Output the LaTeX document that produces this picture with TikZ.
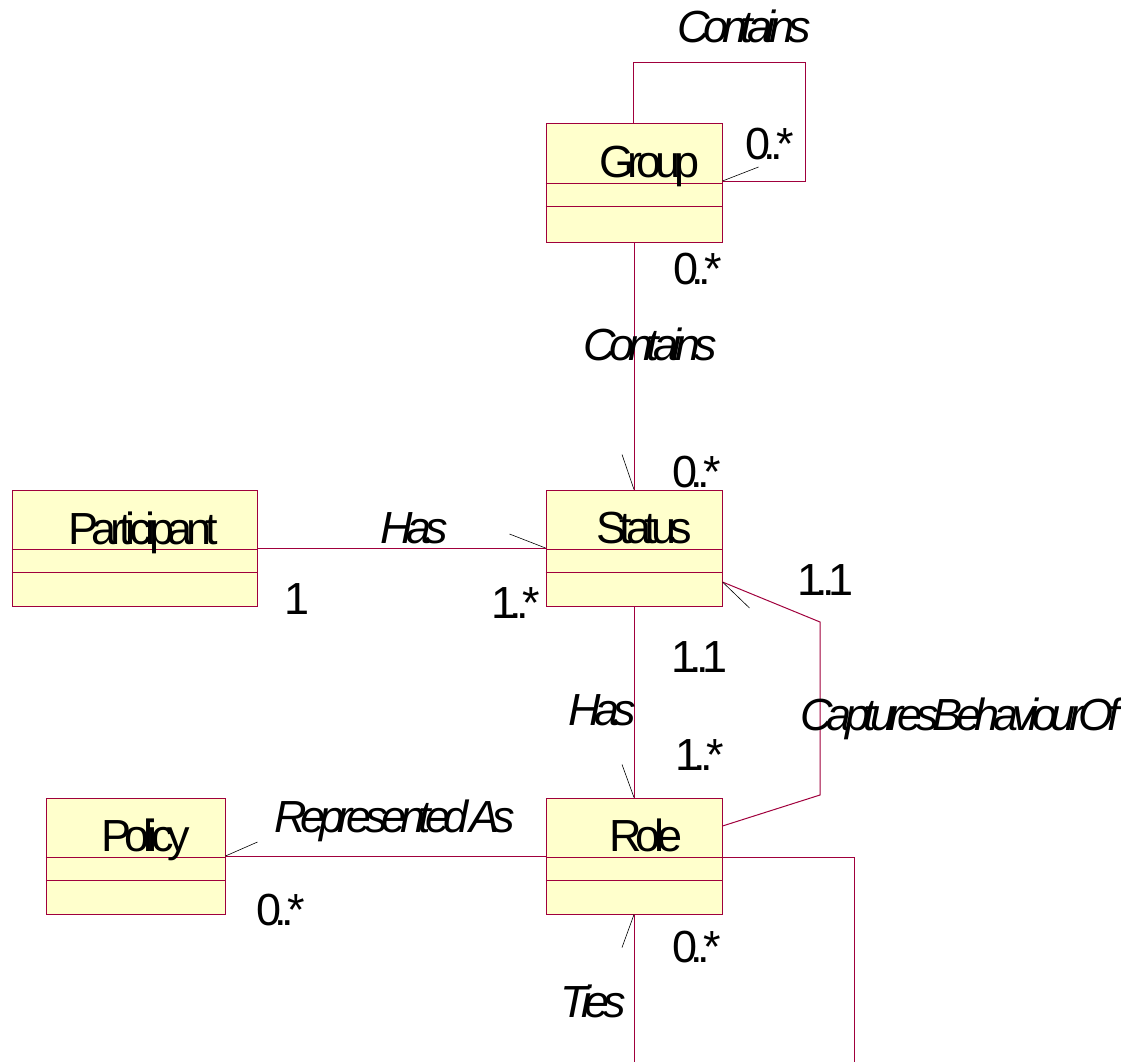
\documentclass[tikz,border=0pt]{standalone}
\usepackage{fontspec}
\newfontfamily\umlfont[LetterSpace=-14]{Liberation Sans}
\definecolor{umlred}{RGB}{160,0,60}
\definecolor{umlfill}{RGB}{255,255,204}
\begin{document}
\begin{tikzpicture}[x=1pt,y=-1pt,
  classbox/.style={draw=umlred,fill=umlfill,line width=1pt,inner sep=0pt,
    minimum width=176pt,minimum height=116pt},
  assoc/.style={draw=umlred,line width=1pt},
  tick/.style={draw=black,line width=0.6pt},
  lbl/.style={anchor=base west,inner sep=0pt,font=\umlfont\fontsize{45}{50}\selectfont},
  ilbl/.style={lbl,font=\umlfont\itshape\fontsize{45}{50}\selectfont}]
\useasboundingbox (0,0) rectangle (1121,1062);

% class boxes
\node[classbox,minimum height=118pt] (group) at (634,183) {};
\node[classbox] (status) at (634,548) {};
\node[classbox,minimum width=245pt] (participant) at (134.5,548) {};
\node[classbox] (role) at (634,856) {};
\node[classbox,minimum width=179pt] (policy) at (135.5,856) {};

% compartment dividers
\foreach \c in {group,status,participant,role,policy}{
  \draw[assoc] ([yshift=-60pt]\c.north west) -- ([yshift=-60pt]\c.north east);
  \draw[assoc] ([yshift=-83pt]\c.north west) -- ([yshift=-83pt]\c.north east);
}

% free ends and bends
\coordinate (loopNE) at (805,63);
\coordinate (loopSE) at (805,181);
\coordinate (capA) at (820,795);
\coordinate (capB) at (820,622);
\coordinate (capS) at (723,582);
\coordinate (capR) at (723,826);
\coordinate (outA) at (854,857);
\coordinate (outEnd) at (854,1062);
\coordinate (tiesEnd) at (634,1062);

% associations
\draw[assoc] ([xshift=-1pt]group.north) |- (loopNE) -- (loopSE) -- (group.east |- loopSE);
\draw[assoc] (group.south) -- (status.north);
\draw[assoc] (participant.east) -- (status.west);
\draw[assoc] (status.south) -- (role.north);
\draw[assoc] (role.east |- capR) -- (capA) -- (capB) -- (status.east |- capS);
\draw[assoc] (policy.east) -- (role.west);
\draw[assoc] (role.east |- outA) -- (outA) -- (outEnd);
\draw[assoc] (role.south) -- (tiesEnd);

% navigability strokes
\draw[tick] (group.east |- loopSE) -- ++(36,-14);
\draw[tick] (status.north) -- ++(-12,-35);
\draw[tick] (status.west) -- ++(-36,-14);
\draw[tick] (role.north) -- ++(-12,-33);
\draw[tick] (status.east |- capS) -- ++(27,26);
\draw[tick] (policy.east) -- ++(32,-14);
\draw[tick] (role.south) -- ++(-12,33);

% class names
\node[lbl] (groupName) at (599,177) {Group};
\node[lbl] (statusName) at (596,543) {Status};
\node[lbl] (participantName) at (68,544) {Participant};
\node[lbl] (roleName) at (609,851) {Role};
\node[lbl] (policyName) at (101,851) {Policy};

% association names
\node[ilbl] (containsTop) at (677,43) {Contains};
\node[ilbl] (containsMid) at (583,360) {Contains};
\node[ilbl] (hasLeft) at (380,543) {Has};
\node[ilbl] (hasMid) at (568,725) {Has};
\node[ilbl] (captures) at (800,730) {CapturesBehaviourOf};
\node[ilbl] (represented) at (274,832) {Represented\hspace{-6pt} As};
\node[ilbl] (ties) at (560,1017) {Ties};

% multiplicities
\node[lbl] (mLoop) at (745,159) {0..*};
\node[lbl] (mGroupBottom) at (673,284) {0..*};
\node[lbl] (mStatusTop) at (672,487) {0..*};
\node[lbl] (mPart) at (284,614) {1};
\node[lbl] (mStatusLeft) at (491,618) {1..*};
\node[lbl] (mStatusRight) at (797,595) {1..1};
\node[lbl] (mStatusBottom) at (671,672) {1..1};
\node[lbl] (mRoleTop) at (675,770) {1..*};
\node[lbl] (mPolicy) at (256,925) {0..*};
\node[lbl] (mRoleBottom) at (672,962) {0..*};
\end{tikzpicture}
\end{document}
